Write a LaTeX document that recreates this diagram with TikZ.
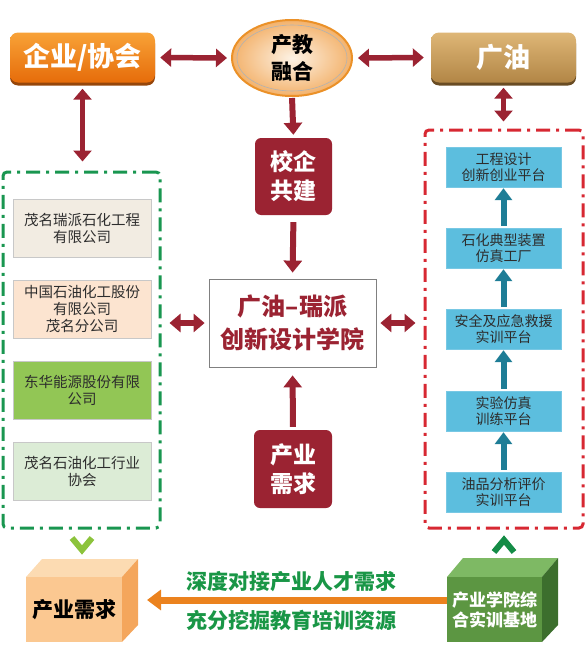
\documentclass[tikz,border=0pt]{standalone}
\usepackage{fontspec}
\setmainfont{Noto Sans CJK SC}
\usetikzlibrary{arrows.meta,shapes.geometric,shadows}

\definecolor{darkred}{RGB}{155,35,50}
\definecolor{qytop}{RGB}{248,162,55}
\definecolor{qybot}{RGB}{230,108,10}
\definecolor{qyshade}{RGB}{150,70,10}
\definecolor{gytop}{RGB}{222,182,118}
\definecolor{gybot}{RGB}{178,134,70}
\definecolor{gyshade}{RGB}{105,76,35}
\definecolor{rhin}{RGB}{253,242,228}
\definecolor{rhout}{RGB}{243,178,108}
\definecolor{rhline}{RGB}{235,145,40}
\definecolor{dashgreen}{RGB}{25,150,80}
\definecolor{dashred}{RGB}{215,40,50}
\definecolor{beige}{RGB}{242,236,226}
\definecolor{peach}{RGB}{252,228,208}
\definecolor{leaf}{RGB}{146,198,85}
\definecolor{mint}{RGB}{220,236,214}
\definecolor{sky}{RGB}{92,190,222}
\definecolor{teal}{RGB}{30,125,150}
\definecolor{textgreen}{RGB}{25,150,70}
\definecolor{lightchev}{RGB}{140,195,60}
\definecolor{darkchev}{RGB}{20,140,70}
\definecolor{arroworange}{RGB}{235,130,30}
\definecolor{cubefront}{RGB}{251,200,145}
\definecolor{cubetop}{RGB}{252,219,178}
\definecolor{cubeside}{RGB}{244,166,92}
\definecolor{gcubefront}{RGB}{92,150,66}
\definecolor{gcubetop}{RGB}{126,185,100}
\definecolor{gcubeside}{RGB}{60,110,45}
\definecolor{ink}{RGB}{45,45,45}

\tikzset{
  headbox/.style={rounded corners=8pt, minimum width=145pt, minimum height=50pt,
    text=white, font=\fontsize{27}{30}\selectfont\bfseries},
  redbox/.style={rounded corners=6pt, fill=darkred, text=white, align=center,
    font=\fontsize{23}{29}\selectfont\bfseries},
  firmbox/.style={draw={rgb,255:red,200;green,200;blue,200}, minimum width=138pt,
    minimum height=58pt, align=center, text=ink, font=\fontsize{14.5}{17}\selectfont},
  platbox/.style={fill=sky, draw={rgb,255:red,120;green,200;blue,228}, minimum width=115pt,
    minimum height=40pt, align=center, text=ink, font=\fontsize{14}{16}\selectfont},
  linkarrow/.style={darkred, line width=6pt, -{Triangle[length=12pt,width=18pt]}},
  bothways/.style={darkred, line width=5.5pt, {Triangle[length=11pt,width=18pt]}-{Triangle[length=11pt,width=18pt]}},
  uparrow/.style={teal, line width=6pt, -{Triangle[length=12pt,width=17pt]}}
}

\begin{document}
\begin{tikzpicture}[x=1pt,y=-1pt]
  \useasboundingbox (0,0) rectangle (587,653);

  % top row
  \node[headbox, top color=qytop, bottom color=qybot,
    drop shadow={shadow xshift=0pt, shadow yshift=-3pt, fill=qyshade, opacity=1}]
    (qiye) at (82.5,57.5) {企业/协会};
  \node[headbox, top color=gytop, bottom color=gybot,
    drop shadow={shadow xshift=0pt, shadow yshift=-3pt, fill=gyshade, opacity=1}]
    (guangyou) at (503.5,57.5) {广油};
  \node[ellipse, minimum width=120pt, minimum height=76pt, draw=rhline, line width=2pt,
    inner color=rhin, outer color=rhout, align=center,
    font=\fontsize{21}{27}\selectfont\bfseries] (ronghe) at (292,58) {产教\\融合};
  \draw[gray!60, line width=0.6pt] (292,58) ellipse [x radius=55, y radius=33];

  % middle column
  \node[redbox, minimum width=77pt, minimum height=77pt] (gongjian) at (293.5,176.5) {校企\\共建};
  \node[draw=gray, line width=0.8pt, fill=white, minimum width=167pt, minimum height=88pt,
    align=center, text=darkred, font=\fontsize{24}{33}\selectfont\bfseries]
    (xueyuan) at (292.5,323) {广油–瑞派\\创新设计学院};
  \node[redbox, minimum width=78pt, minimum height=78pt] (xuqiu) at (293,469) {产业\\需求};

  % left group
  \node[draw=dashgreen, line width=3pt, dash pattern=on 14pt off 6pt on 3pt off 6pt,
    rounded corners=4pt, minimum width=157pt, minimum height=356pt] (qybox) at (81.5,350) {};
  \node[firmbox, fill=beige] (firm1) at (82,228) {茂名瑞派石化工程\\有限公司};
  \node[firmbox, fill=peach] (firm2) at (82,309) {中国石油化工股份\\有限公司\\茂名分公司};
  \node[firmbox, fill=leaf] (firm3) at (82,390.5) {东华能源股份有限\\公司};
  \node[firmbox, fill=mint] (firm4) at (82,471.5) {茂名石油化工行业\\协会};

  % right group
  \node[draw=dashred, line width=3pt, dash pattern=on 14pt off 6pt on 3pt off 6pt,
    rounded corners=4pt, minimum width=158pt, minimum height=398pt] (gybox) at (504,329) {};
  \node[platbox] (plat1) at (503.5,167) {工程设计\\创新创业平台};
  \node[platbox] (plat2) at (503.5,248) {石化典型装置\\仿真工厂};
  \node[platbox] (plat3) at (503.5,329) {安全及应急救援\\实训平台};
  \node[platbox] (plat4) at (503.5,411) {实验仿真\\训练平台};
  \node[platbox] (plat5) at (503.5,492) {油品分析评价\\实训平台};
  \foreach \lo/\hi in {plat2/plat1,plat3/plat2,plat4/plat3,plat5/plat4}
    \draw[uparrow, shorten <=2pt, shorten >=1pt] (\lo.north) -- (\hi.south);

  % links
  \draw[bothways, shorten <=5pt, shorten >=4pt] (qiye.east) -- (ronghe.west);
  \draw[bothways, shorten <=5pt, shorten >=7pt] (ronghe.east) -- (guangyou.west);
  \draw[bothways, shorten <=6pt, shorten >=9pt] (qiye.south) -- (qiye.south |- qybox.north);
  \draw[bothways, shorten <=5pt, shorten >=7pt] (guangyou.south) -- (guangyou.south |- gybox.north);
  \draw[linkarrow, shorten <=1pt, shorten >=3pt] (ronghe.south) -- (gongjian.north);
  \draw[linkarrow, shorten <=7pt, shorten >=6pt] (gongjian.south) -- (xueyuan.north);
  \draw[linkarrow, shorten <=3pt, shorten >=8pt] (xuqiu.north) -- (xueyuan.south);
  \draw[bothways, shorten <=4pt, shorten >=8pt] (xueyuan.west) -- (xueyuan.west -| qybox.east);
  \draw[bothways, shorten <=4pt, shorten >=8pt] (xueyuan.east) -- (xueyuan.east -| gybox.west);

  % bottom row
  \fill[cubetop] (26,577) -- (122,577) -- ++(16,-18) -- (42,559) -- cycle;
  \fill[cubeside] (122,577) -- (122,642) -- ++(16,-17) -- (138,559) -- cycle;
  \node[fill=cubefront, minimum width=96pt, minimum height=65pt, inner sep=0pt,
    font=\fontsize{21}{25}\selectfont\bfseries] (chanye) at (74,609.5) {产业需求};

  \fill[gcubetop] (447,577) -- (542,577) -- ++(16,-19) -- (463,558) -- cycle;
  \fill[gcubeside] (542,577) -- (542,642) -- ++(16,-17) -- (558,558) -- cycle;
  \node[fill=gcubefront, minimum width=95pt, minimum height=65pt, inner sep=0pt, align=center,
    text=white, font=\fontsize{17}{20}\selectfont\bfseries] (jidi) at (494.5,609.5) {产业学院综\\合实训基地};

  \coordinate (tip) at (147,600);
  \draw[arroworange, line width=7pt, -{Triangle[length=14pt,width=20pt]}]
    (jidi.west |- tip) -- (tip);
  \node[text=textgreen, font=\fontsize{21}{25}\selectfont\bfseries] (shendu) at (291,582) {深度对接产业人才需求};
  \node[text=textgreen, font=\fontsize{21}{25}\selectfont\bfseries] (chongfen) at (291,620) {充分挖掘教育培训资源};

  \draw[lightchev, line width=6pt, miter limit=10] (72,538) -- (82,550) -- (92,538);
  \draw[darkchev, line width=6pt, miter limit=10] (494,552) -- (504,540) -- (514,552);
\end{tikzpicture}
\end{document}
